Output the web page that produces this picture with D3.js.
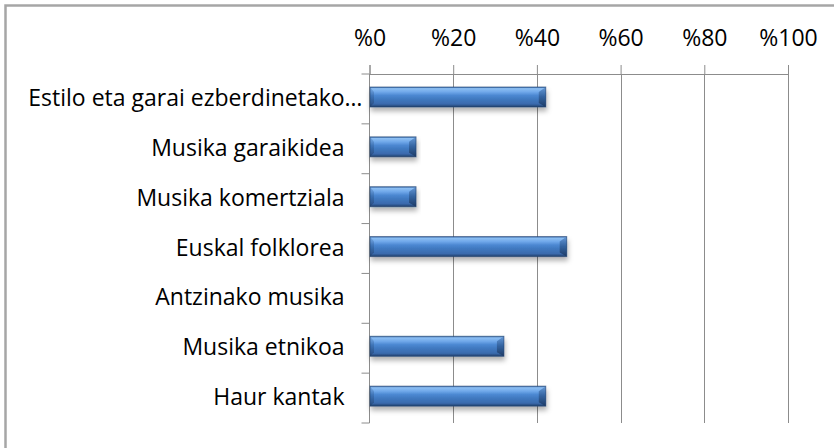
<!DOCTYPE html>
<html>
<head>
<meta charset="utf-8">
<script src="https://cdn.jsdelivr.net/npm/d3@7"></script>
<style>
  body { margin: 0; background: #fff; }
  svg { display: block; }
  text { font-family: "Open Sans", "Roboto", sans-serif; fill: #000; }
</style>
</head>
<body>
<svg id="chart"></svg>
<script>
// data
let categories = ["Estilo eta garai ezberdinetako musika", "Musika garaikidea", "Musika komertziala",
                  "Euskal folklorea", "Antzinako musika", "Musika etnikoa", "Haur kantak"];
let values = [42, 11, 11, 47, 0, 32, 42];
let tickValues = [0, 20, 40, 60, 80, 100];

let width = 834, height = 448;
let margin = {left: 369.5, right: 46, top: 74, bottom: 25};

let svg = d3.select("#chart").attr("width", width).attr("height", height);

// chart frame (only left/top edge visible in the reference)
svg.append("path")
    .attr("d", "M5.5,448 L5.5,5.5 L834,5.5")
    .attr("fill", "none")
    .attr("stroke", "#a6a6a6")
    .attr("stroke-width", 2.5);

let x = d3.scaleLinear().domain([0, 100]).range([margin.left, width - margin.right]);
let y = d3.scaleBand().domain(categories).range([margin.top, height - margin.bottom]).paddingInner(0).paddingOuter(0);

let defs = svg.append("defs");
let grad = defs.append("linearGradient").attr("id", "barGrad").attr("x1", 0).attr("y1", 0).attr("x2", 0).attr("y2", 1);
[[0, "#3566a8"], [0.08, "#8cbef2"], [0.25, "#70a8ea"], [0.42, "#4c88d2"], [0.6, "#4079c0"], [0.85, "#3a6aad"], [1, "#203f6b"]]
    .forEach(s => grad.append("stop").attr("offset", s[0]).attr("stop-color", s[1]));
let endGrad = defs.append("linearGradient").attr("id", "endGrad").attr("x1", 0).attr("y1", 0).attr("x2", 0).attr("y2", 1);
[[0, "#5d90d0"], [0.5, "#2f5c96"], [1, "#1c365c"]]
    .forEach(s => endGrad.append("stop").attr("offset", s[0]).attr("stop-color", s[1]));
let shadow = defs.append("filter").attr("id", "shadow").attr("x", "-10%").attr("y", "-50%").attr("width", "120%").attr("height", "220%");
shadow.append("feDropShadow").attr("dx", 1).attr("dy", 4).attr("stdDeviation", 2.5)
    .attr("flood-color", "#000").attr("flood-opacity", 0.3);

// gridlines
svg.append("g").selectAll("line")
    .data(tickValues.slice(1))
    .enter().append("line")
    .attr("x1", d => Math.round(x(d)) + 0.5).attr("x2", d => Math.round(x(d)) + 0.5)
    .attr("y1", margin.top).attr("y2", height - margin.bottom)
    .attr("stroke", "#8c8c8c").attr("stroke-width", 1);

// top axis
let xAxis = d3.axisTop(x).tickValues(tickValues).tickSize(9).tickPadding(19).tickFormat(d => "%" + d);
let gx = svg.append("g").attr("transform", "translate(0," + margin.top + ")").call(xAxis);
gx.select(".domain").attr("stroke", "#8c8c8c");
gx.selectAll(".tick line").attr("stroke", "#8c8c8c");
gx.selectAll(".tick text").attr("font-size", "23px").attr("fill", "#000");

// left axis, ticks between the categories
let gy = svg.append("g").attr("transform", "translate(" + margin.left + ",0)");
gy.append("line").attr("x1", 0).attr("x2", 0).attr("y1", margin.top).attr("y2", height - margin.bottom)
    .attr("stroke", "#8c8c8c");
gy.selectAll(".ytick")
    .data(categories)
    .enter().append("line")
    .attr("class", "ytick")
    .attr("x1", -8).attr("x2", 0)
    .attr("y1", d => y(d) + y.bandwidth()).attr("y2", d => y(d) + y.bandwidth())
    .attr("stroke", "#8c8c8c");
gy.append("line").attr("x1", -8).attr("x2", 0).attr("y1", margin.top).attr("y2", margin.top).attr("stroke", "#8c8c8c");

// category labels, long one clipped with an ellipsis like the original
let maxLabel = 342;
gy.selectAll(".ylabel")
    .data(categories)
    .enter().append("text")
    .attr("class", "ylabel")
    .attr("x", (d, i) => i === 0 ? -7 : -25)
    .attr("y", d => y(d) + y.bandwidth() / 2 - 1)
    .attr("dy", "0.35em")
    .attr("text-anchor", "end")
    .attr("font-size", "23px")
    .text(d => d)
    .each(function() {
        let t = d3.select(this);
        let s = t.text();
        if (this.getComputedTextLength() > maxLabel) {
            while (s.length > 0 && this.getComputedTextLength() > maxLabel) {
                s = s.slice(0, -1);
                t.text(s.trimEnd() + "…");
            }
        }
    });

// bars
let barH = 20;
let bars = svg.append("g").selectAll("g.bar")
    .data(values.map((v, i) => ({c: categories[i], v: v})).filter(d => d.v > 0))
    .enter().append("g").attr("class", "bar")
    .attr("filter", "url(#shadow)");

bars.append("rect")
    .attr("x", x(0) + 0.5)
    .attr("y", d => y(d.c) + 13)
    .attr("width", d => x(d.v) - x(0))
    .attr("height", barH)
    .attr("fill", "url(#barGrad)");

// bevelled right end
bars.append("path")
    .attr("d", d => {
        let x1 = x(d.v) + 0.5, y0 = y(d.c) + 13, y1 = y0 + barH, b = 7;
        return "M" + (x1 - b) + "," + (y0 + 5) + "L" + x1 + "," + y0 + "L" + x1 + "," + y1 + "L" + (x1 - b) + "," + (y1 - 4) + "Z";
    })
    .attr("fill", "url(#endGrad)")
    .attr("opacity", 0.85);

// bevelled left end
bars.append("path")
    .attr("d", d => {
        let x0 = x(0) + 0.5, y0 = y(d.c) + 13, y1 = y0 + barH, b = 4;
        return "M" + x0 + "," + y0 + "L" + (x0 + b) + "," + (y0 + 5) + "L" + (x0 + b) + "," + (y1 - 4) + "L" + x0 + "," + y1 + "Z";
    })
    .attr("fill", "url(#endGrad)")
    .attr("opacity", 0.5);

// dark outline
bars.append("rect")
    .attr("x", x(0) + 0.5)
    .attr("y", d => y(d.c) + 13)
    .attr("width", d => x(d.v) - x(0))
    .attr("height", barH)
    .attr("fill", "none")
    .attr("stroke", "#23426e")
    .attr("stroke-opacity", 0.6)
    .attr("stroke-width", 1);
</script>
</body>
</html>
